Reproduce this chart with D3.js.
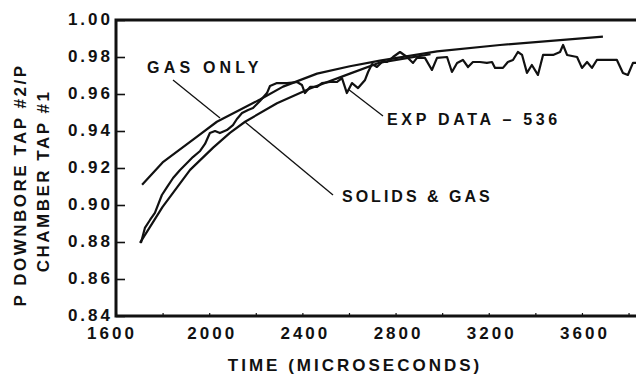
<!DOCTYPE html>
<html>
<head>
<meta charset="utf-8">
<script src="https://cdn.jsdelivr.net/npm/d3@7"></script>
<style>
  body { margin: 0; background: #fff; }
  text { font-family: "Liberation Sans", Arial, sans-serif; font-weight: bold; fill: #111; }
</style>
</head>
<body>
<script>
// time in microseconds
var gasOnlyTime  = [1712, 1800, 1948, 2033, 2218, 2317, 2463, 2604, 2733, 2978, 3248, 3690];
var gasOnlyRatio = [0.911, 0.923, 0.937, 0.945, 0.957, 0.964, 0.971, 0.975, 0.978, 0.983, 0.9865, 0.991];

var solidsTime  = [1703, 1800, 1918, 2017, 2089, 2154, 2291, 2433, 2604, 2733, 2950];
var solidsRatio = [0.8795, 0.899, 0.919, 0.931, 0.939, 0.945, 0.955, 0.963, 0.971, 0.977, 0.9815];

var expTime = [1707, 1724, 1746, 1767, 1797, 1819, 1845, 1875, 1909, 1930, 1961, 1982, 2003, 2025, 2046,
  2076, 2102, 2119, 2141, 2167, 2188, 2218, 2248, 2261, 2291, 2334, 2377, 2398, 2411, 2433, 2463, 2484,
  2518, 2549, 2570, 2591, 2613, 2639, 2669, 2682, 2699, 2720, 2742, 2763, 2789, 2819, 2849, 2875, 2892,
  2926, 2956, 2978, 3021, 3042, 3064, 3089, 3111, 3132, 3162, 3192, 3214, 3227, 3261, 3282, 3304, 3325,
  3343, 3364, 3385, 3411, 3433, 3476, 3506, 3519, 3536, 3579, 3600, 3622, 3643, 3664, 3750, 3776, 3797,
  3819, 3832];
var expRatio = [0.8795, 0.8876, 0.8919, 0.8957, 0.9054, 0.9097, 0.9146, 0.9189, 0.9232, 0.9259, 0.9292,
  0.9330, 0.9389, 0.9400, 0.9389, 0.9405, 0.9432, 0.9465, 0.9497, 0.9514, 0.9524, 0.9562, 0.9605, 0.9643,
  0.9659, 0.9659, 0.9665, 0.9649, 0.9605, 0.9638, 0.9638, 0.9659, 0.9665, 0.9665, 0.9686, 0.9605, 0.9659,
  0.9632, 0.9676, 0.9719, 0.9762, 0.9746, 0.9773, 0.9773, 0.9800, 0.9827, 0.9800, 0.9768, 0.9795, 0.9795,
  0.9730, 0.9795, 0.9800, 0.9719, 0.9768, 0.9784, 0.9746, 0.9773, 0.9773, 0.9768, 0.9773, 0.9741, 0.9741,
  0.9773, 0.9784, 0.9827, 0.9811, 0.9714, 0.9757, 0.9703, 0.9811, 0.9811, 0.9827, 0.9865, 0.9811, 0.9800,
  0.9741, 0.9773, 0.9741, 0.9784, 0.9784, 0.9714, 0.9703, 0.9768, 0.9768];

var yTicks = [0.84, 0.86, 0.88, 0.90, 0.92, 0.94, 0.96, 0.98, 1.00];
var xTicks = [1600, 1800, 2000, 2200, 2400, 2600, 2800, 3000, 3200, 3400, 3600, 3800];
var xTickLabels = [1600, 2000, 2400, 2800, 3200, 3600];

var width = 636, height = 378;
var plot = {left: 116, right: 636, top: 20, bottom: 316};

var svg = d3.select("body").append("svg")
  .attr("width", width)
  .attr("height", height);

var x = d3.scaleLinear().domain([1600, 3832]).range([plot.left, plot.right]);
var y = d3.scaleLinear().domain([0.84, 1.00]).range([plot.bottom, plot.top]);

function zip(t, v) {
  return t.map(function(d, i) { return {t: d, v: v[i]}; });
}

var lineFunction = d3.line()
  .x(function(d) { return x(d.t); })
  .y(function(d) { return y(d.v); });

// y ticks (inward) and labels
svg.append("g")
  .attr("transform", "translate(" + plot.left + ",0)")
  .call(d3.axisRight(y).tickValues(yTicks).tickSize(9).tickFormat(""))
  .call(function(g) {
    g.select(".domain").remove();
    g.selectAll("line").attr("stroke", "#111").attr("stroke-width", 1.6);
  });

svg.selectAll(".ylab").data(yTicks).enter().append("text")
  .attr("class", "ylab")
  .attr("x", 113)
  .attr("y", function(d) { return y(d) + 4.5; })
  .attr("text-anchor", "end")
  .style("font-size", "17px")
  .style("letter-spacing", "3px")
  .text(function(d) { return d3.format(".2f")(d); });

// x ticks (small, upward) and labels
svg.append("g")
  .attr("transform", "translate(0," + plot.bottom + ")")
  .call(d3.axisTop(x).tickValues(xTicks).tickSize(3).tickFormat(""))
  .call(function(g) {
    g.select(".domain").remove();
    g.selectAll("line").attr("stroke", "#111").attr("stroke-width", 1.2);
  });

svg.selectAll(".xlab").data(xTickLabels).enter().append("text")
  .attr("class", "xlab")
  .attr("x", function(d) { return x(d) + (d === 1600 ? -4 : 3); })
  .attr("y", 339)
  .attr("text-anchor", "middle")
  .style("font-size", "17px")
  .style("letter-spacing", "3px")
  .text(function(d) { return d; });

// frame: left, bottom, top
svg.append("path")
  .attr("d", "M" + plot.right + "," + plot.top + "H" + plot.left + "V" + plot.bottom + "H" + plot.right)
  .attr("fill", "none")
  .attr("stroke", "#111")
  .attr("stroke-width", 3);

// curves
var series = [zip(gasOnlyTime, gasOnlyRatio), zip(solidsTime, solidsRatio), zip(expTime, expRatio)];
svg.selectAll(".curve").data(series).enter().append("path")
  .attr("class", "curve")
  .attr("d", lineFunction)
  .attr("fill", "none")
  .attr("stroke", "#111")
  .attr("stroke-width", 2.2)
  .attr("stroke-linejoin", "round");

// leaders
var leaders = [
  [[173, 80], [220, 118]],
  [[245, 122], [333, 195]],
  [[383, 116], [348, 89]]
];
svg.selectAll(".leader").data(leaders).enter().append("path")
  .attr("class", "leader")
  .attr("d", d3.line())
  .attr("stroke", "#111")
  .attr("stroke-width", 1.3);

// annotations
var notes = [
  {text: "GAS ONLY", x: 147, y: 73, ls: 4.2},
  {text: "EXP DATA \u2013 536", x: 387, y: 125, ls: 3.7},
  {text: "SOLIDS & GAS", x: 342, y: 202, ls: 3}
];
svg.selectAll(".note").data(notes).enter().append("text")
  .attr("class", "note")
  .attr("x", function(d) { return d.x; })
  .attr("y", function(d) { return d.y; })
  .style("font-size", "16px")
  .style("letter-spacing", function(d) { return d.ls + "px"; })
  .text(function(d) { return d.text; });

// axis titles
svg.append("text")
  .attr("x", 355)
  .attr("y", 371)
  .attr("text-anchor", "middle")
  .style("font-size", "17px")
  .style("letter-spacing", "3px")
  .text("TIME (MICROSECONDS)");

svg.append("text")
  .attr("transform", "translate(26,185) rotate(-90)")
  .attr("text-anchor", "middle")
  .style("font-size", "17px")
  .style("letter-spacing", "2.5px")
  .text("P DOWNBORE TAP #2/P");

svg.append("text")
  .attr("transform", "translate(49,181) rotate(-90)")
  .attr("text-anchor", "middle")
  .style("font-size", "17px")
  .style("letter-spacing", "2.5px")
  .text("CHAMBER TAP #1");
</script>
</body>
</html>
